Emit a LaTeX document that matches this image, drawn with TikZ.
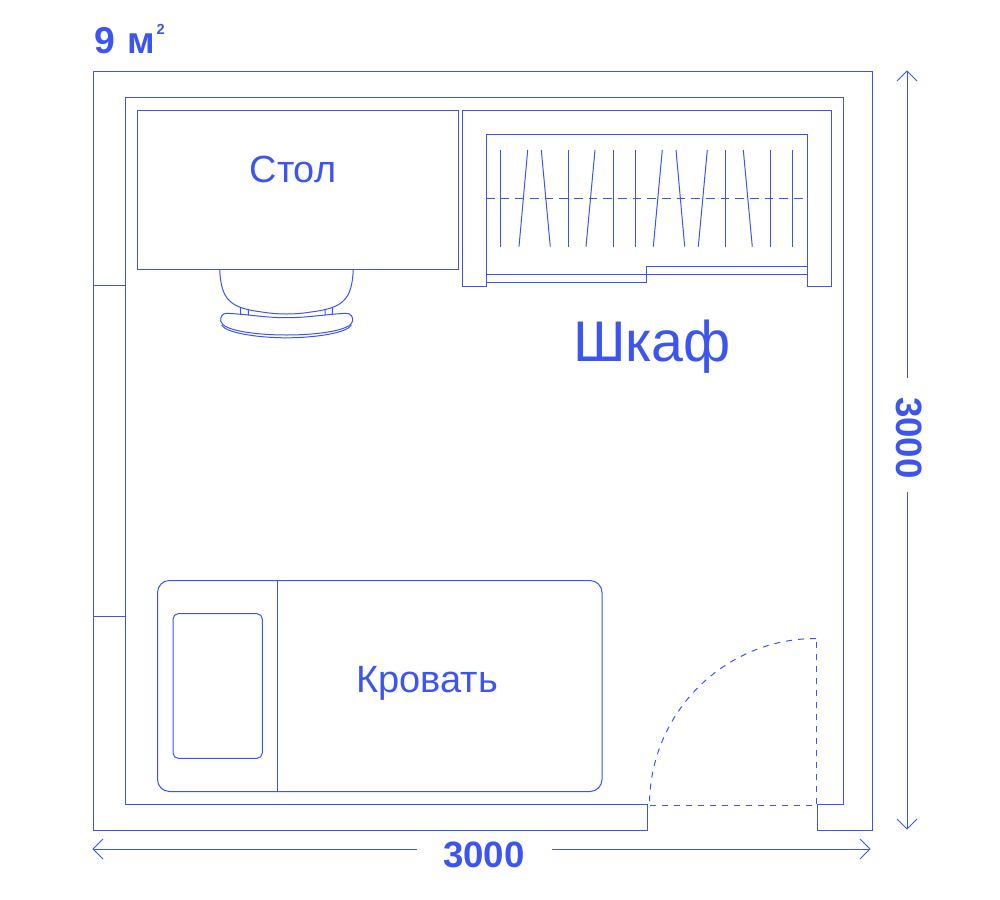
\documentclass[tikz,border=0pt]{standalone}
\usepackage{fontspec}
\setmainfont{Liberation Sans}
\definecolor{plan}{HTML}{3D55F0}
\tikzset{
  ln/.style={draw=plan,line width=0.75pt,line join=miter},
  thin/.style={draw=plan,line width=0.75pt},
  dsh/.style={draw=plan,line width=0.75pt},
  lbl/.style={text=plan,inner sep=0pt,anchor=base},
  arr/.style={draw=plan,line width=0.75pt},
  bold/.style={text=plan,inner sep=0pt,font=\bfseries\fontsize{27.5}{27.5}\selectfont}
}
\begin{document}
\begin{tikzpicture}[x=0.75pt,y=-0.75pt]
\useasboundingbox (0,0) rectangle (1000,900);
% walls
\draw[ln] (93.5,71) -- (872.7,71) -- (872.7,830.5) -- (817.5,830.5) -- (817.5,804.3) -- (843.3,804.3) -- (843.3,97) -- (125.5,97) -- (125.5,804.3) -- (647.5,804.3) -- (647.5,830.5) -- (93.5,830.5) -- cycle;
\coordinate (wa) at (93.5,285); \coordinate (wb) at (125.5,285);
\coordinate (wc) at (93.5,616); \coordinate (wd) at (125.5,616);
\draw[ln] (wa) -- (wb) (wc) -- (wd);
% table
\draw[ln] (137,110) rectangle (458,269);
\node[lbl,font=\fontsize{28.4}{28.4}\selectfont] (stol) at (293,182) {Стол};
% chair
\draw[thin] (219.7,269) .. controls (221,300) and (230,308) .. (262,312) .. controls (270,313.3) and (278,314) .. (286.5,314) .. controls (295,314) and (303,313.3) .. (311,312) .. controls (343,308) and (352,300) .. (353.3,269);
\draw[thin] (240.3,307.7) -- (240.8,314.3) (248.3,310) -- (248.3,315.3) (325,310) -- (325,315.3) (332.7,307.7) -- (332.2,314.3);
\draw[thin] (227,313.3) .. controls (250,314.5) and (265,317.7) .. (286.5,317.7) .. controls (308,317.7) and (323,314.5) .. (346,313.3) .. controls (351,313.3) and (353,317) .. (352.7,321) .. controls (351,331) and (315,335) .. (286.5,335) .. controls (258,335) and (222,331) .. (220.7,321) .. controls (220.3,317) and (222,313.3) .. (227,313.3) -- cycle;
\draw[thin] (221.5,325) .. controls (226,333) and (258,337.8) .. (286.5,337.8) .. controls (315,337.8) and (347,333) .. (351.5,325);
% wardrobe
\draw[ln] (462,110) -- (831,110) -- (831,286.3) -- (807,286.3) -- (807,134) -- (486,134) -- (486,286.3) -- (462,286.3) -- cycle;
\draw[ln] (486,274.3) -- (807,274.3);
\draw[ln] (807,266.3) -- (646.3,266.3) -- (646.3,282.3) -- (486,282.3);
\draw[dsh,dash pattern=on 6.5pt off 4.5pt] (486,198.3) -- (807,198.3);
\foreach \a/\b in {500.7/500.7,527.7/519,541.3/550.3,568/568,595/586,613/613,635.3/635.3,662.3/653.3,676/684.7,707.3/698.3,725.3/725.3,743.3/752.3,770/770,792.3/792.3}
  \draw[thin] (\a,150) -- (\b,246.7);
\node[lbl,font=\fontsize{43}{43}\selectfont] (shkaf) at (652,361) {Шкаф};
% bed
\draw[ln,rounded corners=9pt] (157.5,580.5) rectangle (602,791.5);
\draw[ln] (277.3,580.5) -- (277.3,791.5);
\draw[ln,rounded corners=4pt] (173,613.7) rectangle (262.3,758.3);
\node[lbl,font=\fontsize{28.5}{28.5}\selectfont] (krov) at (427,692) {Кровать};
% door swing
\draw[dsh,dash pattern=on 4.5pt off 4.5pt] (649.5,805) -- (816,805) -- (816,638.5);
\draw[dsh,dash pattern=on 4.5pt off 4.5pt] (816,638.5) arc[start angle=-90,end angle=-180,radius=166.5];
% dimensions
\node[bold] (w) at (484,855) {3000};
\node[bold,rotate=-90] (h) at (909,438) {3000};
\coordinate (l) at (93,849); \coordinate (r) at (870,849);
\coordinate (t) at (907,71); \coordinate (b) at (907,829);
\draw[arr] (l) -- (417,849) (552,849) -- (r);
\draw[arr] (t) -- (907,378) (907,492) -- (b);
\draw[arr] (103,839) -- (l) -- (103,859);
\draw[arr] (860,839) -- (r) -- (860,859);
\draw[arr] (897,81) -- (t) -- (917,81);
\draw[arr] (897,819) -- (b) -- (917,819);
% area
\node[text=plan,inner sep=0pt,anchor=base west,font=\bfseries\fontsize{28}{28}\selectfont] (area) at (94,53) {9\hspace{9pt}м\hspace{1.5pt}\raisebox{14pt}{\fontsize{11}{11}\selectfont 2}};
\end{tikzpicture}
\end{document}
